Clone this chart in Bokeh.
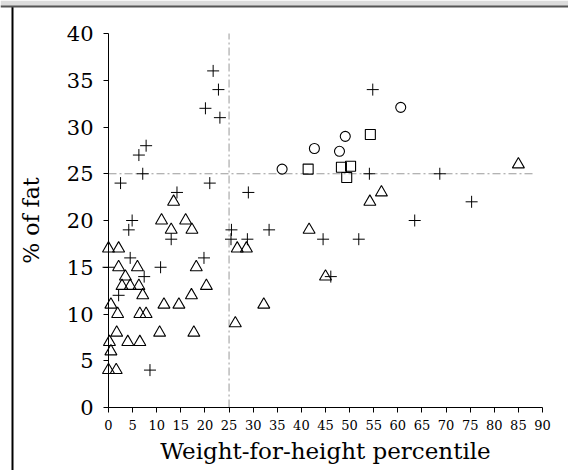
from bokeh.plotting import figure
from bokeh.models import Range1d, FixedTicker, LinearAxis, BoxAnnotation, Span
from bokeh.embed import file_html
from bokeh.resources import INLINE

# Data
cross_x = [21.7, 22.8, 20.1, 23.1, 7.8, 6.3, 7.1, 2.5, 21.0, 14.2, 29.0, 54.8, 54.1, 68.7,
           75.3, 63.5, 4.9, 4.2, 13.0, 25.5, 25.4, 28.8, 4.5, 19.8, 0.0, 10.8, 7.4, 2.1,
           8.6, 33.3, 44.5, 51.9, 46.1]
cross_y = [36, 34, 32, 31, 28, 27, 25, 24, 24, 23, 23, 34, 25, 25,
           22, 20, 20, 19, 18, 19, 18, 18, 16, 16, 15, 15, 14, 12,
           4, 19, 18, 18, 14]

tri_x = [13.5, 54.2, 56.6, 85.0, 11.0, 16.0, 13.0, 17.3, 0.0, 2.1, 26.7, 28.6, 2.1, 6.0,
         18.2, 3.5, 2.8, 4.5, 6.3, 20.3, 7.1, 17.2, 0.5, 11.5, 14.6, 32.2, 1.9, 6.5,
         7.8, 26.3, 1.7, 10.6, 17.7, 0.2, 4.0, 6.5, 0.5, 0.0, 1.6, 41.6, 45.0]
tri_y = [22, 22, 23, 26, 20, 20, 19, 19, 17, 17, 17, 17, 15, 15,
         15, 14, 13, 13, 13, 13, 12, 12, 11, 11, 11, 11, 10, 10,
         10, 9, 8, 8, 8, 7, 7, 7, 6, 4, 4, 19, 14]

circ_x = [60.6, 49.1, 42.7, 47.9, 36.0]
circ_y = [32.1, 29.0, 27.7, 27.4, 25.5]

sq_x = [54.3, 41.4, 48.3, 50.2, 49.4]
sq_y = [29.2, 25.5, 25.7, 25.8, 24.6]

x_ticks = [0, 5, 10, 15, 20, 25, 30, 35, 40, 45, 50, 55, 60, 65, 70, 75, 80, 85, 90]
y_ticks = [0, 5, 10, 15, 20, 25, 30, 35, 40]
cut_x = 25
cut_y = 25
cut_x_end = 88.5             # horizontal cut line stops short of the axis end

FONT = "DejaVu Serif"
W, H = 568, 470
BAND = 6                     # pixel row of the line under the grey header band
RULE_X = 12                  # pixel column of the black rule at the left
# pixel geometry of the data area
PX0, PX1 = 108, 542          # x = 0 .. 90
PY0, PY1 = 407, 33           # y = 0 .. 40
xmin, xmax = x_ticks[0], x_ticks[-1]
ymin, ymax = y_ticks[0], y_ticks[-1]
sx = (PX1 - PX0) / (xmax - xmin)
sy = (PY0 - PY1) / (ymax - ymin)
x_range = Range1d(xmin - PX0 / sx, xmin + (W - PX0) / sx)
y_range = Range1d(ymin - (H - PY0) / sy, ymin + PY0 / sy)
band_y = ymin + (PY0 - BAND) / sy
band_low = ymin + (PY0 - BAND - 1.5) / sy
rule_x = xmin - (PX0 - RULE_X) / sx
edge_x = xmin + (W - 6 - PX0) / sx

p = figure(width=W, height=H, output_backend="svg", toolbar_location=None,
           x_range=x_range, y_range=y_range, x_axis_location=None,
           y_axis_location=None,
           min_border_left=0, min_border_right=0, min_border_top=0,
           min_border_bottom=0)
p.outline_line_color = None
p.grid.visible = False
p.background_fill_color = "white"
p.border_fill_color = "white"


def style(ax):
    ax.axis_line_color = "black"
    ax.axis_line_width = 1
    ax.major_tick_line_color = "black"
    ax.major_tick_in = 0
    ax.major_tick_out = 5
    ax.minor_tick_line_color = None
    ax.major_label_text_font = FONT
    ax.axis_label_text_font = FONT
    ax.axis_label_text_font_style = "normal"
    ax.major_label_text_color = "black"
    ax.axis_label_text_color = "black"


xax = LinearAxis(fixed_location=ymin, bounds=(xmin, xmax),
                 ticker=FixedTicker(ticks=x_ticks),
                 axis_label="Weight-for-height percentile")
style(xax)
xax.major_label_text_font_size = "13px"
xax.major_label_standoff = 7
xax.axis_label_text_font_size = "23px"
xax.axis_label_standoff = 5
p.add_layout(xax, "below")

yax = LinearAxis(fixed_location=xmin, bounds=(ymin, ymax),
                 ticker=FixedTicker(ticks=y_ticks), axis_label="% of fat")
style(yax)
yax.major_label_text_font_size = "21px"
yax.major_label_standoff = 10
yax.axis_label_text_font_size = "22px"
yax.axis_label_standoff = 20
p.add_layout(yax, "left")

# keep the right edge clean
p.add_layout(BoxAnnotation(left=edge_x, top=band_low, fill_color="white",
                           fill_alpha=1, line_color=None))
# page frame: grey header band with a dark line, black rule at the left
p.add_layout(BoxAnnotation(bottom=band_y, fill_color="#dcdcdc", fill_alpha=1,
                           line_color=None))
p.add_layout(Span(location=band_y, dimension="width", line_color="#555555",
                  line_width=2))
p.segment(x0=[rule_x], y0=[y_range.start], x1=[rule_x], y1=[band_y],
          line_color="black", line_width=2)

# reference cut lines at 25
p.segment(x0=[cut_x], y0=[ymin], x1=[cut_x], y1=[ymax], line_color="#9a9a9a",
          line_width=1, line_dash="8 3 2 3")
p.segment(x0=[xmin], y0=[cut_y], x1=[cut_x_end], y1=[cut_y], line_color="#9a9a9a",
          line_width=1, line_dash="8 3 2 3")

p.scatter(cross_x, cross_y, marker="cross", size=12, line_color="black", line_width=1)
p.scatter(tri_x, tri_y, marker="triangle", size=12, fill_color=None,
          line_color="black", line_width=1.1)
p.scatter(circ_x, circ_y, marker="circle", size=10, fill_color=None,
          line_color="black", line_width=1.1)
p.scatter(sq_x, sq_y, marker="square", size=10, fill_color=None,
          line_color="black", line_width=1.1)

open("out.html", "w").write(file_html(p, INLINE))
